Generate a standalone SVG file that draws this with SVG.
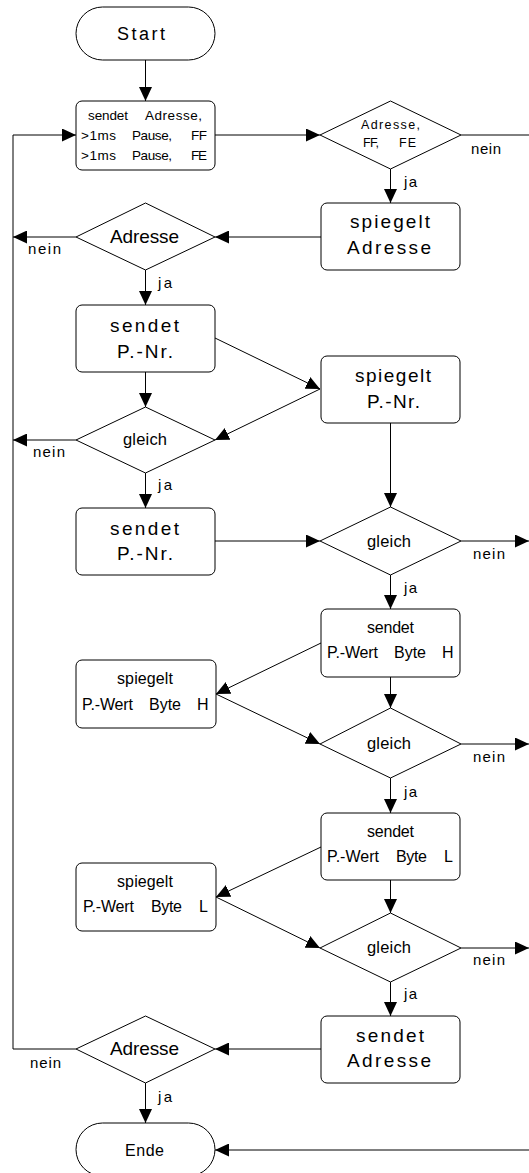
<svg xmlns="http://www.w3.org/2000/svg" width="529" height="1173" viewBox="0 0 529 1173">
<style>
.s{fill:#fff;stroke:#000;stroke-width:1}
.c{fill:none;stroke:#000;stroke-width:1}
text{font-family:"Liberation Sans",Arial,sans-serif;fill:#000}
.b{font-size:19px}
.st{font-size:18px}
.m{font-size:16px}
.sm{font-size:13.5px}
.d{font-size:12.5px}
.l{font-size:15px}
.g{font-size:16.5px}
</style>
<defs>
<marker id="ah" markerUnits="userSpaceOnUse" markerWidth="14" markerHeight="13" refX="14" refY="6.5" orient="auto">
<path d="M0,0 L14,6.5 L0,13 z" fill="#000"/>
</marker>
</defs>
<g id="connectors" class="c">
<line x1="145.5" y1="60" x2="145.5" y2="101" marker-end="url(#ah)"/>
<line x1="215" y1="135" x2="320" y2="135" marker-end="url(#ah)"/>
<line x1="461" y1="135" x2="529" y2="135"/>
<line x1="390.5" y1="169" x2="390.5" y2="203" marker-end="url(#ah)"/>
<line x1="321" y1="237" x2="215" y2="237" marker-end="url(#ah)"/>
<line x1="76" y1="237" x2="13" y2="237" marker-end="url(#ah)"/>
<line x1="145.5" y1="270" x2="145.5" y2="305" marker-end="url(#ah)"/>
<line x1="215" y1="338" x2="320" y2="389" marker-end="url(#ah)"/>
<line x1="320" y1="389" x2="215" y2="440" marker-end="url(#ah)"/>
<line x1="145.5" y1="372" x2="145.5" y2="407" marker-end="url(#ah)"/>
<line x1="76" y1="440" x2="13" y2="440" marker-end="url(#ah)"/>
<line x1="145.5" y1="473" x2="145.5" y2="508" marker-end="url(#ah)"/>
<line x1="215" y1="541" x2="320" y2="541" marker-end="url(#ah)"/>
<line x1="390.5" y1="423" x2="390.5" y2="507" marker-end="url(#ah)"/>
<line x1="461" y1="541" x2="529" y2="541" marker-end="url(#ah)"/>
<line x1="390.5" y1="575" x2="390.5" y2="609" marker-end="url(#ah)"/>
<line x1="321" y1="643" x2="216" y2="694" marker-end="url(#ah)"/>
<line x1="216" y1="694" x2="320" y2="744" marker-end="url(#ah)"/>
<line x1="390.5" y1="677" x2="390.5" y2="708" marker-end="url(#ah)"/>
<line x1="461" y1="744" x2="529" y2="744" marker-end="url(#ah)"/>
<line x1="390.5" y1="778" x2="390.5" y2="813" marker-end="url(#ah)"/>
<line x1="321" y1="847" x2="216" y2="897" marker-end="url(#ah)"/>
<line x1="216" y1="897" x2="320" y2="948" marker-end="url(#ah)"/>
<line x1="390.5" y1="880" x2="390.5" y2="913" marker-end="url(#ah)"/>
<line x1="461" y1="948" x2="529" y2="948" marker-end="url(#ah)"/>
<line x1="390.5" y1="982" x2="390.5" y2="1016" marker-end="url(#ah)"/>
<line x1="321" y1="1049" x2="215" y2="1049" marker-end="url(#ah)"/>
<line x1="145.5" y1="1083" x2="145.5" y2="1123" marker-end="url(#ah)"/>
<polyline points="76,1049 13,1049 13,135 76,135" marker-end="url(#ah)"/>
<line x1="529" y1="1150" x2="215" y2="1150" marker-end="url(#ah)"/>
</g>
<g id="start">
<rect class="s" x="76" y="7" width="139" height="53" rx="26.5"/>
<text class="st" x="117" y="39.5" textLength="48">Start</text>
</g>
<g id="box-sendet-adresse-ff-fe">
<rect class="s" x="76" y="101" width="139" height="69" rx="6"/>
<text class="sm" x="88" y="120" textLength="40">sendet</text>
<text class="sm" x="145" y="120" textLength="57">Adresse,</text>
<text class="sm" x="81" y="140" textLength="35">&gt;1ms</text>
<text class="sm" x="132" y="140" textLength="40">Pause,</text>
<text class="sm" x="191" y="140" textLength="16">FF</text>
<text class="sm" x="81" y="160" textLength="35">&gt;1ms</text>
<text class="sm" x="132" y="160" textLength="40">Pause,</text>
<text class="sm" x="191" y="160" textLength="16">FE</text>
</g>
<g id="dec-adresse-ff-fe">
<polygon class="s" points="320,135 390.5,101 461,135 390.5,169"/>
<text class="d" x="361" y="129" textLength="59">Adresse,</text>
<text class="d" x="363" y="147" textLength="16">FF,</text>
<text class="d" x="399" y="147" textLength="17">FE</text>
<text class="l" x="471" y="154" textLength="30">nein</text>
<text class="l" x="404" y="187" textLength="13">ja</text>
</g>
<g id="box-spiegelt-adresse">
<rect class="s" x="321" y="203" width="139" height="67" rx="6"/>
<text class="b" x="350" y="228" textLength="80">spiegelt</text>
<text class="b" x="347" y="254" textLength="84">Adresse</text>
</g>
<g id="dec-adresse-1">
<polygon class="s" points="76,237 145.5,203 215,237 145.5,270"/>
<text class="b" x="110" y="243" textLength="69">Adresse</text>
<text class="l" x="28" y="254" textLength="33">nein</text>
<text class="l" x="158" y="288" textLength="14">ja</text>
</g>
<g id="box-sendet-pnr-1">
<rect class="s" x="76" y="305" width="139" height="67" rx="6"/>
<text class="b" x="110" y="332" textLength="69">sendet</text>
<text class="b" x="117" y="358" textLength="56">P.-Nr.</text>
</g>
<g id="box-spiegelt-pnr">
<rect class="s" x="321" y="356" width="139" height="67" rx="6"/>
<text class="b" x="355" y="382" textLength="76">spiegelt</text>
<text class="b" x="367" y="408" textLength="53">P.-Nr.</text>
</g>
<g id="dec-gleich-left">
<polygon class="s" points="76,440 145.5,407 215,440 145.5,473"/>
<text class="g" x="123" y="445" textLength="44">gleich</text>
<text class="l" x="33" y="457" textLength="32">nein</text>
<text class="l" x="158" y="490" textLength="14">ja</text>
</g>
<g id="box-sendet-pnr-2">
<rect class="s" x="76" y="508" width="139" height="67" rx="6"/>
<text class="b" x="110" y="535" textLength="69">sendet</text>
<text class="b" x="117" y="560" textLength="56">P.-Nr.</text>
</g>
<g id="dec-gleich-1">
<polygon class="s" points="320,541 390.5,507 461,541 390.5,575"/>
<text class="g" x="367" y="547" textLength="44">gleich</text>
<text class="l" x="473" y="559" textLength="32">nein</text>
<text class="l" x="404" y="593" textLength="13">ja</text>
</g>
<g id="box-sendet-wert-h">
<rect class="s" x="321" y="609" width="139" height="68" rx="6"/>
<text class="m" x="367" y="633" textLength="47">sendet</text>
<text class="m" x="327" y="658" textLength="51">P.-Wert</text>
<text class="m" x="394" y="658" textLength="32">Byte</text>
<text class="m" x="442" y="658" textLength="11">H</text>
</g>
<g id="box-spiegelt-wert-h">
<rect class="s" x="76" y="660" width="140" height="68" rx="6"/>
<text class="m" x="117" y="684" textLength="56">spiegelt</text>
<text class="m" x="82" y="710" textLength="51">P.-Wert</text>
<text class="m" x="149" y="710" textLength="32">Byte</text>
<text class="m" x="197" y="710" textLength="11">H</text>
</g>
<g id="dec-gleich-2">
<polygon class="s" points="320,744 390.5,708 461,744 390.5,778"/>
<text class="g" x="367" y="749" textLength="44">gleich</text>
<text class="l" x="473" y="762" textLength="32">nein</text>
<text class="l" x="404" y="797" textLength="13">ja</text>
</g>
<g id="box-sendet-wert-l">
<rect class="s" x="321" y="813" width="139" height="67" rx="6"/>
<text class="m" x="367" y="837" textLength="47">sendet</text>
<text class="m" x="327" y="862" textLength="52">P.-Wert</text>
<text class="m" x="396" y="862" textLength="31">Byte</text>
<text class="m" x="444" y="862" textLength="8">L</text>
</g>
<g id="box-spiegelt-wert-l">
<rect class="s" x="76" y="863" width="140" height="68" rx="6"/>
<text class="m" x="117" y="887" textLength="56">spiegelt</text>
<text class="m" x="83" y="912" textLength="51">P.-Wert</text>
<text class="m" x="151" y="912" textLength="31">Byte</text>
<text class="m" x="199" y="912" textLength="8">L</text>
</g>
<g id="dec-gleich-3">
<polygon class="s" points="320,948 390.5,913 461,948 390.5,982"/>
<text class="g" x="367" y="953" textLength="44">gleich</text>
<text class="l" x="473" y="965" textLength="32">nein</text>
<text class="l" x="404" y="999" textLength="13">ja</text>
</g>
<g id="box-sendet-adresse">
<rect class="s" x="321" y="1016" width="139" height="67" rx="6"/>
<text class="b" x="356" y="1042" textLength="68">sendet</text>
<text class="b" x="347" y="1067" textLength="84">Adresse</text>
</g>
<g id="dec-adresse-2">
<polygon class="s" points="76,1049 145.5,1016 215,1049 145.5,1083"/>
<text class="b" x="110" y="1055" textLength="69">Adresse</text>
<text class="l" x="30" y="1068" textLength="31">nein</text>
<text class="l" x="158" y="1102" textLength="14">ja</text>
</g>
<g id="ende">
<rect class="s" x="76" y="1123" width="139" height="53" rx="26.5"/>
<text class="m" x="125" y="1156" textLength="39">Ende</text>
</g>
</svg>
